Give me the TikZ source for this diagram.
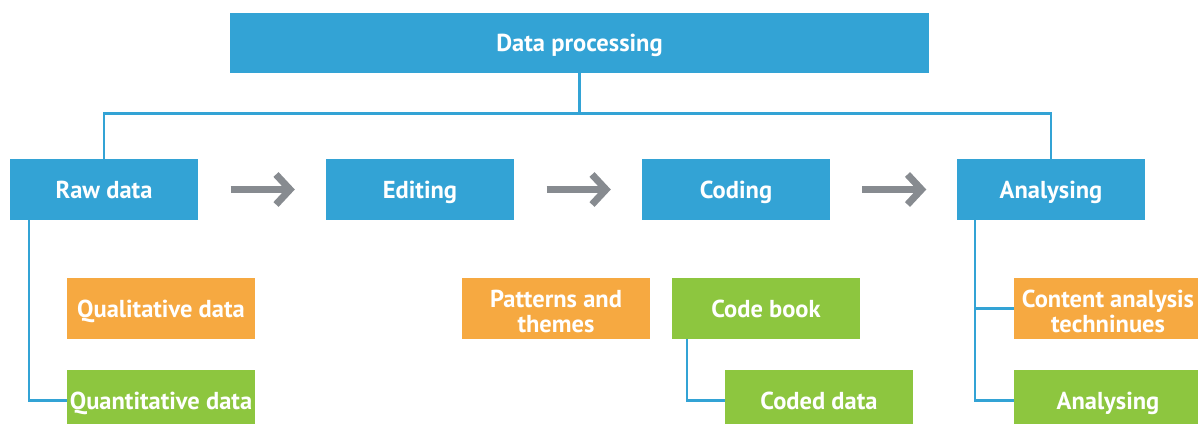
\documentclass[tikz,border=0pt]{standalone}
\usepackage{fontspec}
\setmainfont{PT Sans}
\definecolor{boxblue}{HTML}{33A3D5}
\definecolor{boxorange}{HTML}{F6A941}
\definecolor{boxgreen}{HTML}{8DC63F}
\definecolor{arrowgray}{HTML}{878B90}
\begin{document}
\begin{tikzpicture}[x=1pt,y=-1pt,
  box/.style={rectangle, inner sep=0pt, minimum width=188pt, minimum height=60.5pt,
    text=white, font=\bfseries\fontsize{24.5}{25}\selectfont, align=center},
  oneline/.style={text height=17.2pt, text depth=0pt},
  bluebox/.style={box, oneline, fill=boxblue},
  orangebox/.style={box, fill=boxorange},
  greenbox/.style={box, fill=boxgreen},
  link/.style={draw=boxblue, line width=2.6pt},
  flow/.style={draw=arrowgray, line width=7pt}]
\useasboundingbox (0,0) rectangle (1198,423);

% main boxes
\node[bluebox, minimum width=699pt] (top) at (579.5,43) {Data processing};
\node[bluebox] (raw) at (104,189.5) {Raw data};
\node[bluebox] (edit) at (420,189.5) {Editing};
\node[bluebox] (code) at (736,189.5) {Coding};
\node[bluebox] (anal) at (1051,189.5) {Analysing};

% detail boxes
\node[orangebox, oneline] (qual) at (161,308.5) {Qualitative data};
\node[greenbox, oneline] (quant) at (161,400.5) {Quantitative data};
\node[orangebox, minimum height=60.5pt] (patt) at (556,308.5) {};
\node[white, font=\bfseries\fontsize{24.5}{25}\selectfont, align=center, inner sep=0pt] (pattxt) at (556,311) {Patterns and\\themes};
\node[greenbox, oneline] (book) at (766,308.5) {Code book};
\node[greenbox, oneline] (coded) at (819,400.5) {Coded data};
\node[orangebox] (tech) at (1108,308.5) {};
\node[white, font=\bfseries\fontsize{24.5}{25}\selectfont, align=center, inner sep=0pt] (techtxt) at (1108,311) {Content analysis\\techninues};
\node[greenbox, oneline] (anal2) at (1108,400.5) {Analysing};

% tree connectors
\coordinate (hub) at (579.5,113.5);
\draw[link] (top.south) -- (hub);
\draw[link] (raw.north -| 104,0) |- (hub) -| (anal.north);
\draw[link] (raw.south -| 29,0) |- (quant.west);
\draw[link] (book.south -| 687,0) |- (coded.west);
\draw[link] (anal.south -| 975,0) |- (anal2.west);
\draw[link] (anal.south -| 975,0) |- (tech.west);

% process arrows
\foreach \a/\b in {raw/edit, edit/code, code/anal} {
  \path (\a.east) -- (\b.west) coordinate[pos=0.5] (m\a);
  \draw[flow] ([xshift=-31.5pt]m\a) -- ([xshift=26pt]m\a);
  \draw[flow, line join=miter] ([xshift=14pt,yshift=-15pt]m\a) -- ([xshift=28pt,yshift=0pt]m\a) -- ([xshift=14pt,yshift=15pt]m\a);
}
\end{tikzpicture}
\end{document}
